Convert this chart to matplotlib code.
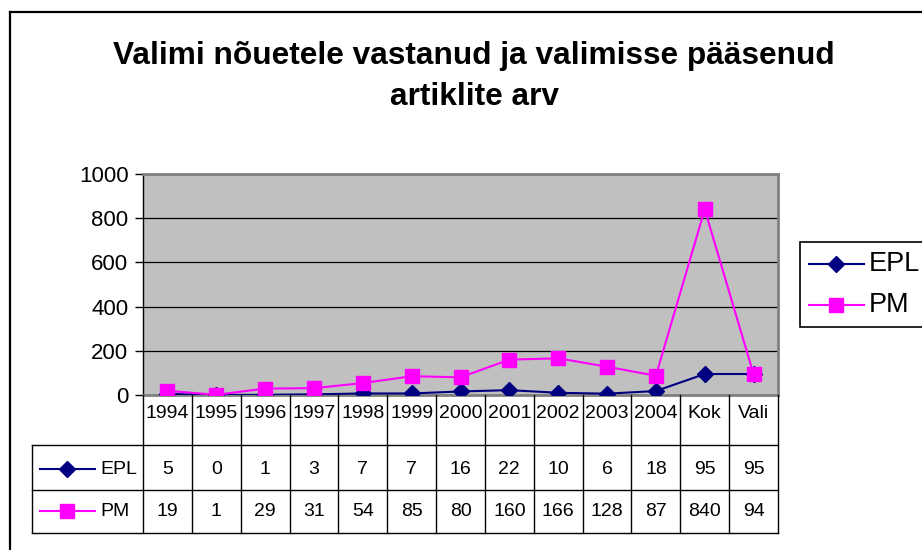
import matplotlib
matplotlib.use("Agg")
import matplotlib.pyplot as plt
from matplotlib.lines import Line2D
from matplotlib.patches import Rectangle
from matplotlib.transforms import blended_transform_factory

categories = ["1994", "1995", "1996", "1997", "1998", "1999", "2000",
              "2001", "2002", "2003", "2004", "Kok", "Vali"]
epl = [5, 0, 1, 3, 7, 7, 16, 22, 10, 6, 18, 95, 95]
pm = [19, 1, 29, 31, 54, 85, 80, 160, 166, 128, 87, 840, 94]
series_names = ["EPL", "PM"]
y_ticks = [0, 200, 400, 600, 800, 1000]

W, H = 922, 550
plt.rcParams["font.family"] = ["Liberation Sans", "DejaVu Sans"]
TABLE_FS = 14  # original uses Arial Narrow, not available here

navy = "#000080"
magenta = "#FF00FF"


def fx(px):
    return px / W


def fy(py):
    return 1 - py / H


fig = plt.figure(figsize=(W / 100, H / 100), dpi=100)

# outer chart border (right/bottom cut off like the screenshot)
fig.add_artist(Line2D([fx(10), fx(10)], [fy(12), 0], color="black", lw=1.6))
fig.add_artist(Line2D([fx(10), 1], [fy(12), fy(12)], color="black", lw=1.6))

fig.text(fx(474), fy(64), "Valimi nõuetele vastanud ja valimisse pääsenud",
         ha="center", va="baseline", fontsize=22.8, fontweight="bold")
fig.text(fx(474), fy(105), "artiklite arv",
         ha="center", va="baseline", fontsize=22.8, fontweight="bold")

left, right, top, bottom = 143, 778, 174, 395
ax = fig.add_axes([fx(left), fy(bottom), fx(right - left), (bottom - top) / H])
ax.set_facecolor("#C0C0C0")

x = list(range(len(categories)))
ax.plot(x, epl, color=navy, lw=1.5, marker="D", markersize=8, zorder=3)
ax.plot(x, pm, color=magenta, lw=1.5, marker="s", markersize=9.5, zorder=4)

ax.set_xlim(-0.5, len(categories) - 0.5)
ax.set_ylim(0, 1000)
ax.set_yticks(y_ticks)
ax.set_yticklabels([str(v) for v in y_ticks], fontsize=16)
ax.set_xticks([])
ax.grid(axis="y", color="black", lw=0.9)
ax.set_axisbelow(True)
ax.tick_params(axis="y", length=6, width=1, direction="out", pad=4.5)
for side in ["top", "right", "bottom"]:
    ax.spines[side].set_color("#808080")
    ax.spines[side].set_linewidth(2)
ax.spines["left"].set_color("black")
ax.spines["left"].set_linewidth(1)

# data table under the plot
tr = blended_transform_factory(ax.transData, fig.transFigure)
row_edges = [bottom, 445, 490, 533]
for i in range(len(categories) + 1):
    fig.add_artist(Line2D([i - 0.5, i - 0.5], [fy(bottom), fy(533)],
                          transform=tr, color="black", lw=1))
for yy in row_edges[1:]:
    fig.add_artist(Line2D([fx(32), fx(right)], [fy(yy), fy(yy)], color="black", lw=1))
fig.add_artist(Line2D([fx(32), fx(32)], [fy(445), fy(533)], color="black", lw=1))

for i, c in enumerate(categories):
    fig.text(i, fy(414), c, transform=tr, fontsize=TABLE_FS, ha="center", va="center")
rows = [epl, pm]
row_mid = [469, 511]
for vals, ym in zip(rows, row_mid):
    for i, v in enumerate(vals):
        fig.text(i, fy(ym), str(v), transform=tr, fontsize=TABLE_FS,
                 ha="center", va="center")

styles = [(navy, "D", 8), (magenta, "s", 9.5)]
for name, ym, (col, mk, ms) in zip(series_names, row_mid, styles):
    fig.add_artist(Line2D([fx(40), fx(95)], [fy(ym), fy(ym)], color=col, lw=1.5))
    fig.add_artist(Line2D([fx(67)], [fy(ym)], color=col, marker=mk, markersize=ms))
    fig.text(fx(100), fy(ym), name, fontsize=TABLE_FS, ha="left", va="center")

# legend on the right
fig.add_artist(Rectangle((fx(800), fy(327)), fx(140), (327 - 242) / H,
                         facecolor="white", edgecolor="black", lw=1.2))
for name, ym, (col, mk, ms) in zip(series_names, [264, 305], styles):
    fig.add_artist(Line2D([fx(809), fx(864)], [fy(ym), fy(ym)], color=col, lw=1.5))
    fig.add_artist(Line2D([fx(836)], [fy(ym)], color=col, marker=mk, markersize=ms))
    fig.text(fx(869), fy(ym), name, fontsize=19.5, ha="left", va="center")

fig.savefig("out.png", dpi=100)
